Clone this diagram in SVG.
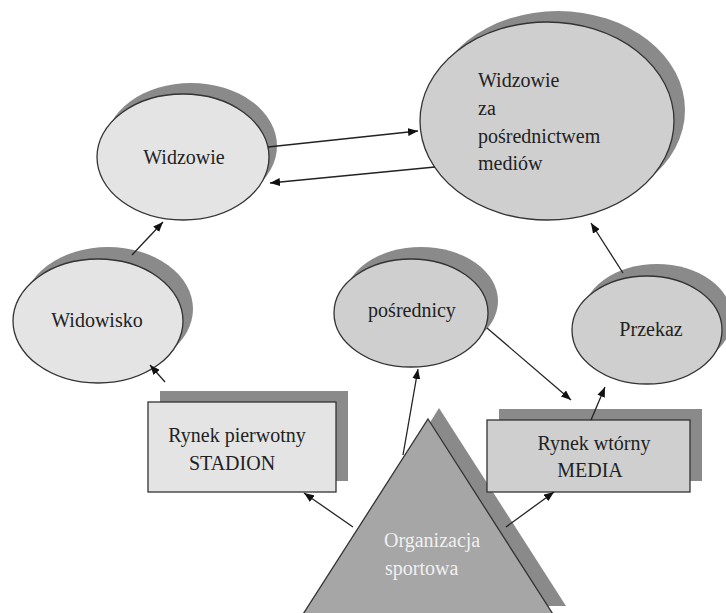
<svg xmlns="http://www.w3.org/2000/svg" width="726" height="613" viewBox="0 0 726 613">
<defs>
<marker id="ah" viewBox="0 0 10 8" refX="10" refY="4" markerWidth="10" markerHeight="8" markerUnits="userSpaceOnUse" orient="auto">
<path d="M0,0 L10,4 L0,8 Z" fill="#111"/>
</marker>
</defs>
<style>
.sh{fill:#8a8a8a;stroke:none}
.lt{fill:#e4e4e4;stroke:#333;stroke-width:1.3}
.md{fill:#cfcfcf;stroke:#333;stroke-width:1.3}
.tri{fill:#a6a6a6;stroke:#333;stroke-width:1.3}
.t{font-family:"Liberation Serif","Times New Roman",serif;font-size:20px;fill:#222}
.tw{font-family:"Liberation Serif","Times New Roman",serif;font-size:20px;fill:#f0f0f0}
.c{stroke:#222;stroke-width:1.3;fill:none;marker-end:url(#ah)}
</style>
<rect width="726" height="613" fill="#fff"/>

<g id="media-viewers">
<ellipse class="sh" cx="558" cy="110" rx="127" ry="99"/>
<ellipse class="md" cx="547" cy="121" rx="127" ry="99"/>
<text class="t" x="478" y="87">Widzowie</text>
<text class="t" x="478" y="115">za</text>
<text class="t" x="478" y="143">pośrednictwem</text>
<text class="t" x="478" y="170">mediów</text>
</g>

<g id="viewers">
<ellipse class="sh" cx="191" cy="146" rx="86" ry="63"/>
<ellipse class="lt" cx="183" cy="157" rx="86" ry="63"/>
<text class="t" x="184" y="164" text-anchor="middle">Widzowie</text>
</g>

<g id="spectacle">
<ellipse class="sh" cx="108" cy="309" rx="85" ry="62"/>
<ellipse class="lt" cx="98" cy="321" rx="85" ry="62"/>
<text class="t" x="97" y="327" text-anchor="middle">Widowisko</text>
</g>

<g id="intermediaries">
<ellipse class="sh" cx="421" cy="301" rx="77" ry="54"/>
<ellipse class="md" cx="411" cy="313" rx="77" ry="54"/>
<text class="t" x="412" y="317" text-anchor="middle">pośrednicy</text>
</g>

<g id="broadcast">
<ellipse class="sh" cx="657" cy="318" rx="75" ry="54"/>
<ellipse class="md" cx="647" cy="330" rx="75" ry="54"/>
<text class="t" x="651" y="336" text-anchor="middle">Przekaz</text>
</g>

<g id="primary-market">
<rect class="sh" x="160" y="391" width="188" height="90"/>
<rect class="lt" x="148" y="402" width="188" height="90"/>
<text class="t" x="237" y="442" text-anchor="middle">Rynek pierwotny</text>
<text class="t" x="232" y="470" text-anchor="middle">STADION</text>
</g>

<g id="sports-organization">
<polygon class="sh" points="439,408 566,606 316,606"/>
<polygon class="tri" points="428,419 558,622 298,622"/>
<text class="tw" x="384" y="547">Organizacja</text>
<text class="tw" x="385" y="575">sportowa</text>
</g>

<g id="secondary-market">
<rect class="sh" x="499" y="409" width="203" height="72"/>
<rect class="md" x="487" y="420" width="203" height="72"/>
<text class="t" x="594" y="450" text-anchor="middle">Rynek wtórny</text>
<text class="t" x="590" y="477" text-anchor="middle">MEDIA</text>
</g>

<g id="connectors">
<line class="c" x1="268" y1="147" x2="418" y2="131"/>
<line class="c" x1="435" y1="167" x2="270" y2="183"/>
<line class="c" x1="132" y1="255" x2="163" y2="222"/>
<line class="c" x1="165" y1="382" x2="150" y2="365"/>
<line class="c" x1="353" y1="527" x2="304" y2="493"/>
<line class="c" x1="403" y1="455" x2="418" y2="369"/>
<line class="c" x1="487" y1="328" x2="571" y2="400"/>
<line class="c" x1="591" y1="420" x2="605" y2="387"/>
<line class="c" x1="506" y1="527" x2="554" y2="492"/>
<line class="c" x1="623" y1="273" x2="591" y2="223"/>
</g>
</svg>
